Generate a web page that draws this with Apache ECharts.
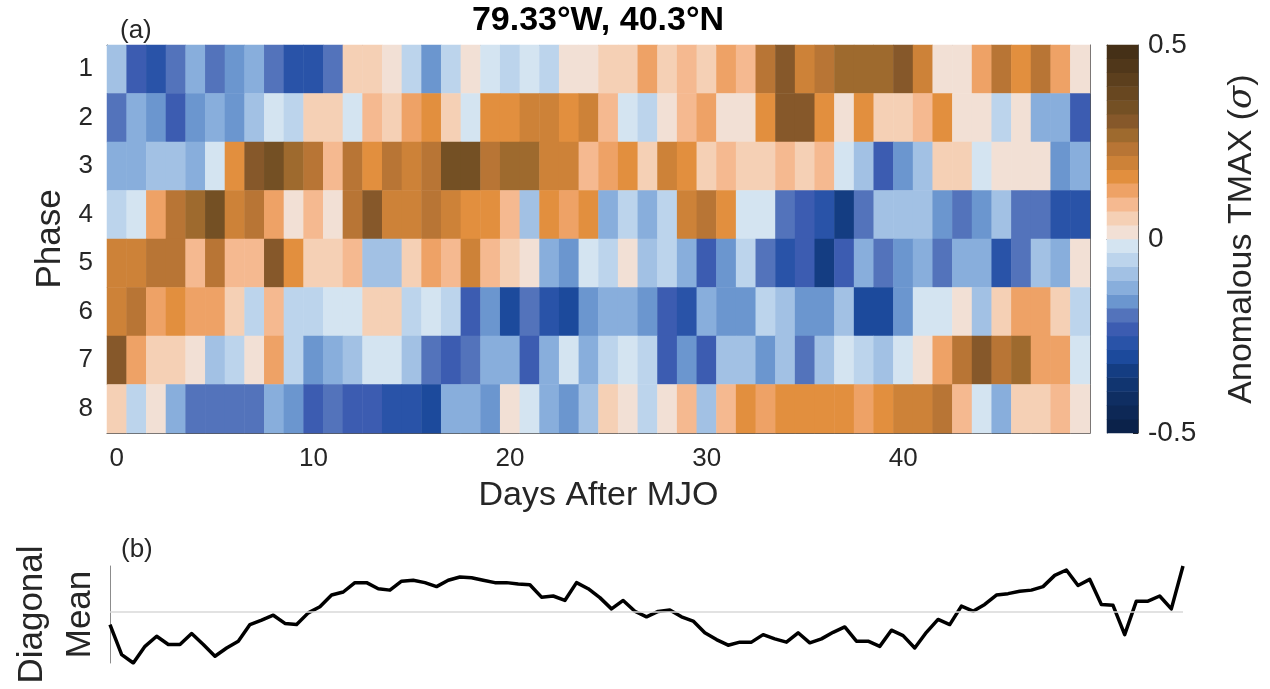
<!DOCTYPE html>
<html>
<head>
<meta charset="utf-8">
<title>79.33°W, 40.3°N</title>
<script src="https://cdn.jsdelivr.net/npm/echarts@6/dist/echarts.min.js"></script>
<style>
  html, body { margin: 0; padding: 0; background: #ffffff; }
  #chart { width: 1270px; height: 689px; }
</style>
</head>
<body>
<div id="chart"></div>
<script>
// Days after the MJO event (heatmap columns) and MJO phases (rows)
const days = ['0','1','2','3','4','5','6','7','8','9','10','11','12','13','14','15','16','17','18','19',
  '20','21','22','23','24','25','26','27','28','29','30','31','32','33','34','35','36','37','38','39',
  '40','41','42','43','44','45','46','47','48','49'];
const phases = ['1', '2', '3', '4', '5', '6', '7', '8'];

// Anomalous TMAX (sigma), one array per phase, days 0..49
const phase1 = [-0.09,-0.23,-0.27,-0.2,-0.12,-0.2,-0.16,-0.12,-0.2,-0.27,-0.27,-0.2,0.05,0.05,0.02,-0.05,-0.16,-0.05,0.02,-0.02,
  -0.05,-0.02,-0.05,0.02,0.02,0.05,0.05,0.12,0.05,0.09,0.05,0.12,0.09,0.23,0.3,0.2,0.23,0.27,0.27,0.27,
  0.3,0.2,0.02,0.02,0.12,0.23,0.16,0.23,0.12,0.02];
const phase2 = [-0.2,-0.12,-0.16,-0.23,-0.16,-0.12,-0.16,-0.09,-0.02,-0.05,0.05,0.05,-0.02,0.09,0.05,0.12,0.16,0.05,-0.02,0.16,
  0.16,0.2,0.2,0.16,0.2,0.09,-0.02,-0.05,0.02,0.09,0.12,0.02,0.02,0.16,0.3,0.3,0.16,0.02,0.16,0.05,
  0.05,0.09,0.16,0.02,0.02,-0.05,0.02,-0.12,-0.12,-0.23];
const phase3 = [-0.12,-0.12,-0.09,-0.09,-0.12,-0.02,0.16,0.3,0.34,0.27,0.23,0.09,0.23,0.16,0.23,0.2,0.23,0.34,0.34,0.23,
  0.27,0.27,0.2,0.2,0.09,0.12,0.16,0.05,0.2,0.16,0.05,0.09,0.05,0.05,0.09,0.05,0.09,-0.02,-0.09,-0.23,
  -0.16,-0.09,0.05,0.05,-0.02,0.02,0.02,0.02,-0.16,-0.12];
const phase4 = [-0.05,-0.02,0.12,0.23,0.27,0.34,0.2,0.23,0.12,0.02,0.09,0.02,0.23,0.3,0.2,0.2,0.23,0.2,0.16,0.16,
  0.09,-0.09,0.16,0.12,0.16,-0.12,-0.05,-0.12,-0.05,0.2,0.23,0.16,-0.02,-0.02,-0.2,-0.23,-0.27,-0.34,-0.2,-0.09,
  -0.09,-0.09,-0.16,-0.2,-0.16,-0.09,-0.2,-0.2,-0.27,-0.27];
const phase5 = [0.2,0.2,0.23,0.23,0.09,0.23,0.09,0.09,0.3,0.16,0.05,0.05,0.09,-0.09,-0.09,0.05,0.12,0.09,0.2,0.09,
  0.05,0.02,-0.12,-0.16,-0.02,-0.05,0.02,-0.09,-0.05,-0.12,-0.23,-0.16,-0.05,-0.2,-0.27,-0.23,-0.34,-0.23,-0.12,-0.2,
  -0.16,-0.12,-0.2,-0.12,-0.12,-0.27,-0.2,-0.09,-0.12,0.02];
const phase6 = [0.2,0.23,0.12,0.16,0.12,0.12,0.05,-0.05,0.09,-0.05,-0.05,-0.02,-0.02,0.05,0.05,-0.05,-0.02,-0.05,-0.23,-0.16,
  -0.3,-0.2,-0.27,-0.3,-0.16,-0.12,-0.12,-0.16,-0.23,-0.27,-0.12,-0.16,-0.16,-0.05,-0.09,-0.16,-0.16,-0.09,-0.3,-0.3,
  -0.16,-0.02,-0.02,0.02,-0.09,0.05,0.12,0.12,0.05,-0.05];
const phase7 = [0.3,0.12,0.05,0.05,0.02,-0.09,-0.05,0.02,0.12,-0.05,-0.16,-0.12,-0.09,-0.02,-0.02,-0.09,-0.2,-0.23,-0.2,-0.12,
  -0.12,-0.23,-0.12,-0.02,-0.12,-0.05,-0.02,-0.05,-0.23,-0.16,-0.23,-0.09,-0.09,-0.16,-0.09,-0.2,-0.09,-0.02,-0.05,-0.09,
  -0.02,0.02,0.12,0.23,0.3,0.23,0.27,0.12,0.12,-0.02];
const phase8 = [0.05,-0.05,0.02,-0.12,-0.2,-0.2,-0.2,-0.2,-0.12,-0.16,-0.23,-0.2,-0.23,-0.23,-0.27,-0.27,-0.3,-0.12,-0.12,-0.16,
  0.02,-0.02,-0.12,-0.16,-0.09,0.05,0.02,-0.05,0.02,0.09,-0.09,0.09,0.16,0.12,0.16,0.16,0.16,0.16,0.12,0.16,
  0.2,0.2,0.23,0.09,-0.02,-0.12,0.05,0.05,0.09,0.02];

// Mean along the diagonals of the phase/day field (sigma)
const diagonalMean = [-0.056,-0.184,-0.22,-0.149,-0.106,-0.141,-0.141,-0.094,-0.141,-0.191,
  -0.156,-0.127,-0.056,-0.037,-0.016,-0.051,-0.056,-0.006,0.02,0.07,
  0.083,0.123,0.123,0.097,0.091,0.129,0.133,0.123,0.106,0.133,
  0.147,0.144,0.133,0.123,0.123,0.117,0.114,0.061,0.066,0.047,
  0.123,0.097,0.059,0.011,0.047,0.001,-0.023,0.0,0.006,-0.023,
  -0.041,-0.091,-0.12,-0.144,-0.131,-0.131,-0.099,-0.117,-0.131,-0.091,
  -0.134,-0.117,-0.089,-0.066,-0.127,-0.127,-0.149,-0.08,-0.103,-0.156,
  -0.089,-0.034,-0.056,0.023,0.001,0.03,0.07,0.076,0.086,0.091,
  0.106,0.154,0.177,0.111,0.137,0.03,0.026,-0.099,0.044,0.044,
  0.066,0.011,0.194];

// Colour bar range and tick labels
const colorRange = [-0.5, 0.5];
const colorTicks = [-0.5, 0, 0.5];

// Stepped blue-white-brown colour map, from -0.5 (bottom) to 0.5 (top)
const levelColors = [
  '#0b224a', '#0d2856', '#0f2e62', '#113570', '#143d82', '#1c4a9c', '#2953a8',
  '#3c5cb1', '#5373bb', '#6b96cf', '#88aedc', '#a2c1e4', '#bcd4ec', '#d4e4f1',
  '#f2e0d5', '#f5d0b5', '#f5b990', '#eea266', '#e28f3e', '#cd8238', '#b87535',
  '#9e6a2e', '#86582a', '#745024', '#684720', '#5c3f1d', '#50371a', '#453017'
];

const FONT = '"Liberation Sans", Arial, Helvetica, sans-serif';
const TEXT = '#262626';
const BOX = '#555555';

const phaseRows = [phase1, phase2, phase3, phase4, phase5, phase6, phase7, phase8];
const heatData = [];
phaseRows.forEach((row, p) => row.forEach((v, d) => heatData.push([d, p, v])));

// Piecewise mapping of values onto the colour levels
const nLevels = levelColors.length;
const step = (colorRange[1] - colorRange[0]) / nLevels;
const pieces = levelColors.map((c, k) => {
  const lo = colorRange[0] + k * step;
  return k === nLevels - 1
    ? { gte: lo, lte: colorRange[1], color: c }
    : { gte: lo, lt: lo + step, color: c };
});
const levelNames = levelColors.map((c, k) => String(k));
const colorbarData = levelColors.map((c, k) => [0, k, colorRange[0] + (k + 0.5) * step]);

const everyTenth = (i) => i % 10 === 0;

const chart = echarts.init(document.getElementById('chart'), null, { renderer: 'canvas' });

chart.setOption({
  animation: false,
  backgroundColor: '#ffffff',
  textStyle: { fontFamily: FONT },
  title: {
    text: '79.33°W, 40.3°N',
    left: 598,
    top: 4,
    padding: 0,
    textAlign: 'center',
    textStyle: { fontSize: 34, fontWeight: 'bold', color: '#000000', fontFamily: FONT }
  },
  graphic: [
    { type: 'text', left: 120, top: 18, style: { text: '(a)', fontSize: 26, fill: TEXT, fontFamily: FONT } },
    { type: 'text', left: 121, top: 537, style: { text: '(b)', fontSize: 26, fill: TEXT, fontFamily: FONT } }
  ],
  grid: [
    { left: 107, top: 45, width: 983, height: 388 },
    { left: 1107, top: 45, width: 31, height: 388 },
    { left: 107, top: 566, width: 1076, height: 97 }
  ],
  visualMap: {
    type: 'piecewise',
    show: false,
    dimension: 2,
    seriesIndex: [0, 1],
    pieces: pieces
  },
  xAxis: [
    {
      gridIndex: 0, type: 'category', data: days, position: 'bottom',
      axisLine: { show: true, lineStyle: { color: BOX, width: 1 } },
      axisTick: { show: true, inside: true, alignWithLabel: true, interval: everyTenth, length: 8, lineStyle: { color: TEXT } },
      axisLabel: { interval: everyTenth, fontSize: 26, color: TEXT, margin: 13, fontFamily: FONT },
      splitLine: { show: false },
      name: 'Days After MJO', nameLocation: 'middle', nameGap: 46,
      nameTextStyle: { fontSize: 34, color: TEXT, fontFamily: FONT }
    },
    {
      gridIndex: 0, type: 'category', data: days, position: 'top',
      axisLine: { show: true, lineStyle: { color: BOX, width: 1 } },
      axisTick: { show: true, inside: true, alignWithLabel: true, interval: everyTenth, length: 8, lineStyle: { color: TEXT } },
      axisLabel: { show: false },
      splitLine: { show: false }
    },
    {
      gridIndex: 1, type: 'category', data: ['c'], position: 'bottom',
      axisLine: { show: true, lineStyle: { color: BOX, width: 1 } },
      axisTick: { show: false }, axisLabel: { show: false }, splitLine: { show: false }
    },
    {
      gridIndex: 1, type: 'category', data: ['c'], position: 'top',
      axisLine: { show: true, lineStyle: { color: BOX, width: 1 } },
      axisTick: { show: false }, axisLabel: { show: false }, splitLine: { show: false }
    },
    {
      gridIndex: 2, type: 'category', data: diagonalMean.map((v, i) => i),
      boundaryGap: false, show: false
    }
  ],
  yAxis: [
    {
      gridIndex: 0, type: 'category', data: phases, inverse: true, position: 'left',
      axisLine: { show: true, lineStyle: { color: BOX, width: 1 } },
      axisTick: { show: true, inside: true, alignWithLabel: true, length: 8, lineStyle: { color: TEXT } },
      axisLabel: { fontSize: 26, color: TEXT, margin: 14, fontFamily: FONT },
      splitLine: { show: false },
      name: 'Phase', nameLocation: 'middle', nameGap: 33, nameRotate: 90,
      nameTextStyle: { fontSize: 35, color: TEXT, fontFamily: FONT }
    },
    {
      gridIndex: 0, type: 'category', data: phases, inverse: true, position: 'right',
      axisLine: { show: true, lineStyle: { color: BOX, width: 1 } },
      axisTick: { show: true, inside: true, alignWithLabel: true, length: 8, lineStyle: { color: TEXT } },
      axisLabel: { show: false },
      splitLine: { show: false }
    },
    {
      gridIndex: 1, type: 'category', data: levelNames, position: 'left',
      axisLine: { show: true, lineStyle: { color: BOX, width: 1 } },
      axisTick: { show: false }, axisLabel: { show: false }, splitLine: { show: false }
    },
    {
      gridIndex: 1, type: 'value', position: 'right',
      min: colorRange[0], max: colorRange[1], interval: 0.5,
      axisLine: { show: true, lineStyle: { color: BOX, width: 1 } },
      axisTick: { show: true, inside: true, length: 5, lineStyle: { color: TEXT } },
      axisLabel: {
        fontSize: 28, color: TEXT, margin: 10, fontFamily: FONT,
        formatter: (v) => (colorTicks.indexOf(v) >= 0 ? String(v) : '')
      },
      splitLine: { show: false },
      name: 'Anomalous TMAX ({s|σ})', nameLocation: 'middle', nameGap: 87, nameRotate: 90,
      nameTextStyle: {
        fontSize: 34, color: TEXT, fontFamily: FONT,
        rich: { s: { fontSize: 34, fontStyle: 'italic', color: TEXT, fontFamily: '"DejaVu Serif", "Liberation Serif", serif' } }
      }
    },
    {
      gridIndex: 2, type: 'value', position: 'left',
      min: 'dataMin', max: 'dataMax',
      axisLine: { show: true, lineStyle: { color: '#8c8c8c', width: 1 } },
      axisTick: { show: false }, axisLabel: { show: false }, splitLine: { show: false },
      name: 'Diagonal\nMean', nameLocation: 'middle', nameGap: 6, nameRotate: 90,
      nameTextStyle: { fontSize: 35, lineHeight: 48, color: TEXT, fontFamily: FONT }
    }
  ],
  series: [
    {
      type: 'heatmap', name: 'TMAX anomaly',
      xAxisIndex: 0, yAxisIndex: 0,
      data: heatData,
      itemStyle: { borderWidth: 0 },
      emphasis: { disabled: true },
      progressive: 0
    },
    {
      type: 'heatmap', name: 'colour bar',
      xAxisIndex: 2, yAxisIndex: 2,
      data: colorbarData,
      itemStyle: { borderWidth: 0 },
      emphasis: { disabled: true },
      progressive: 0
    },
    {
      type: 'line', name: 'Diagonal Mean',
      xAxisIndex: 4, yAxisIndex: 4,
      data: diagonalMean,
      symbol: 'none',
      lineStyle: { color: '#000000', width: 3.5, join: 'round' },
      markLine: {
        silent: true,
        symbol: 'none',
        label: { show: false },
        lineStyle: { color: '#d9d9d9', width: 1.5, type: 'solid' },
        data: [{ yAxis: 0 }]
      },
      z: 3
    }
  ]
});
</script>
</body>
</html>
